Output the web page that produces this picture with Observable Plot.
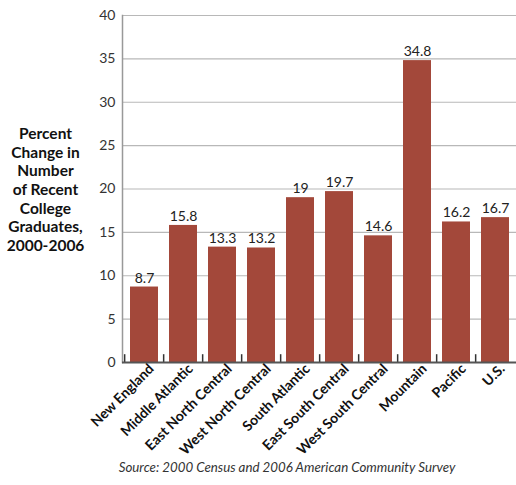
<!DOCTYPE html>
<html>
<head>
<meta charset="utf-8">
<script src="https://cdn.jsdelivr.net/npm/d3@7"></script>
<script src="https://cdn.jsdelivr.net/npm/@observablehq/plot@0.6"></script>
<style>
  html, body { margin: 0; padding: 0; background: #fff; }
  #chart { width: 516px; height: 459px; }
  .caption { font-family: Lato, "Open Sans", sans-serif; font-style: italic; font-size: 13.3px; line-height: 16px; color: #333; text-align: center; width: 516px; padding-left: 58px; box-sizing: border-box; margin-top: 0px; }
</style>
</head>
<body>
<div id="chart"></div>
<div class="caption">Source: 2000 Census and 2006 American Community Survey</div>
<script>
const regions = ["New England", "Middle Atlantic", "East North Central", "West North Central", "South Atlantic", "East South Central", "West South Central", "Mountain", "Pacific", "U.S."];
const values = [8.7, 15.8, 13.3, 13.2, 19, 19.7, 14.6, 34.8, 16.2, 16.7];
const yTicks = [0, 5, 10, 15, 20, 25, 30, 35, 40];
const yTitle = "Percent\nChange in\nNumber\nof Recent\nCollege\nGraduates,\n2000-2006";

const data = regions.map((r, i) => ({region: r, value: values[i]}));

const W = 516, H = 459, mL = 122, mR = 0, mT = 15, mB = 97;
const x0 = 127, x1 = 513, padIn = 0.275;
const step = (x1 - x0) / (regions.length - padIn);

const chart = Plot.plot({
  width: W,
  height: H,
  marginLeft: mL,
  marginRight: mR,
  marginTop: mT,
  marginBottom: mB,
  style: {fontFamily: "Lato, 'Open Sans', sans-serif", background: "#fff", overflow: "visible"},
  x: {domain: regions, range: [x0, x1], paddingInner: padIn, paddingOuter: 0, align: 0.5, label: null},
  y: {domain: [0, 40], ticks: yTicks, label: null},
  marks: [
    Plot.gridY(yTicks, {stroke: "#b8b8b8", strokeOpacity: 1, strokeWidth: 1.2}),
    Plot.frame({anchor: "left", stroke: "#999", strokeWidth: 1.5}),
    Plot.barY(data, {x: "region", y: "value", fill: "#a3483a"}),
    Plot.ruleX(regions, {x: d => d, y1: 0, y2: 0.9, dx: -step / 2, stroke: "#333", strokeWidth: 1.5}),
    Plot.ruleY([0], {stroke: "#555", strokeWidth: 2}),
    Plot.text(data, {x: "region", y: "value", text: d => String(d.value), dy: -9, fontSize: 14, fill: "#222"}),
    Plot.axisY(yTicks, {tickSize: 0, tickPadding: 7, fontSize: 14, fill: "#333", tickFormat: d => String(d)}),
    Plot.axisX({tickSize: 0, tickRotate: -45, tickPadding: 4, dx: 7, fontSize: 14, fontWeight: "bold", fill: "#111", label: null}),
    Plot.text([yTitle], {frameAnchor: "left", dx: -77, textAnchor: "middle", fontSize: 15.5, fontWeight: "bold", fill: "#111", lineHeight: 1.2})
  ]
});
document.getElementById("chart").appendChild(chart);
</script>
</body>
</html>
